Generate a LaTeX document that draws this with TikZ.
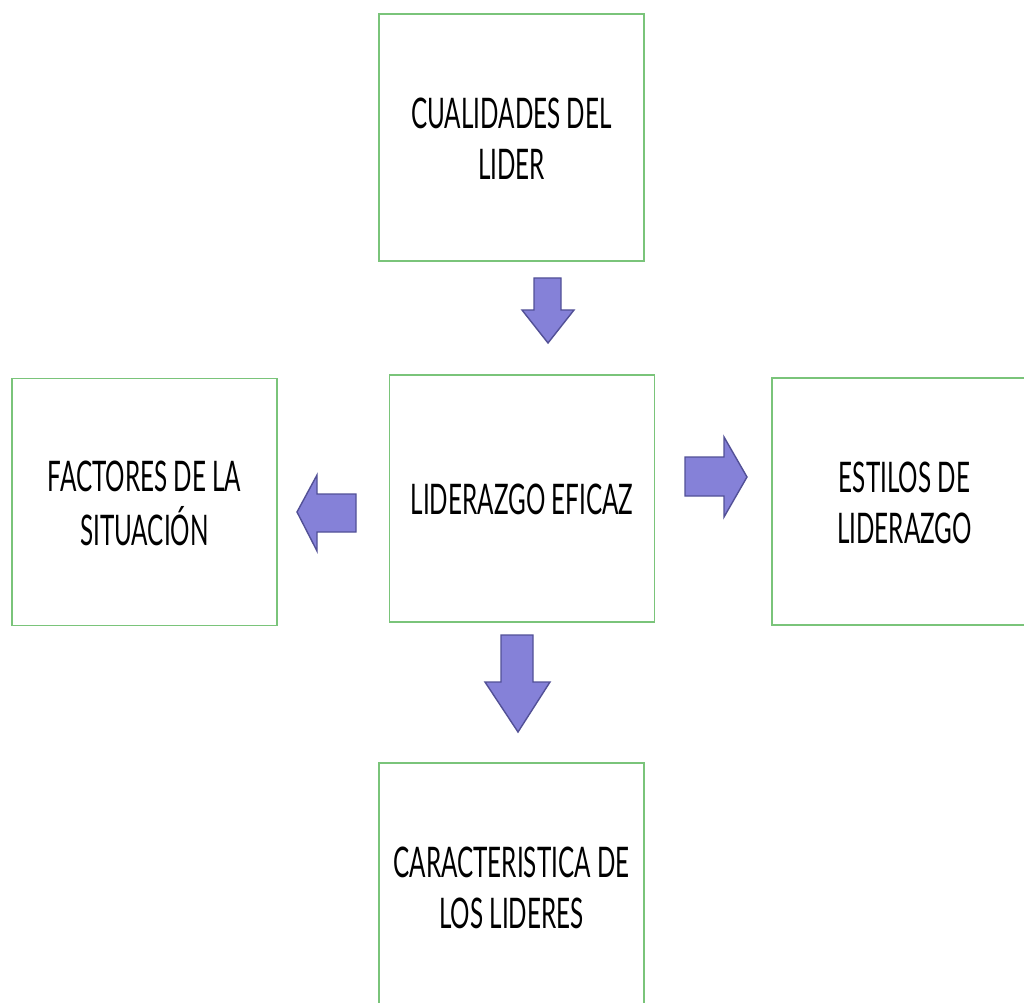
\documentclass[tikz,border=0pt]{standalone}
\usepackage{fontspec}
\setmainfont{Lato}
\usepackage{tikz}
\definecolor{boxgreen}{RGB}{122,196,122}
\definecolor{arrowfill}{RGB}{133,129,216}
\definecolor{arrowline}{RGB}{82,80,150}
\newcommand{\boxtext}[1]{\raisebox{-3.5pt}[\height][\depth]{\scalebox{0.575}[1]{\begin{tabular}{@{}c@{}}#1\end{tabular}}}}

\begin{document}
\begin{tikzpicture}[x=0.02cm, y=-0.02cm, font=\fontsize{24}{29}\selectfont, main/.style = {draw=boxgreen, line width=0.8pt, rectangle, minimum width=5.3cm, minimum height=4.94cm, inner sep=0pt, align=center}, flecha/.style = {draw=arrowline, fill=arrowfill, line width=0.8pt, line join=miter}]
                \useasboundingbox (0,0) rectangle (1024,1003);
                \node[main] (cual) at (511.5,137.5) {\boxtext{CUALIDADES DEL\\LIDER}};
                \node[main] (lid) at (522,498.5) {\boxtext{LIDERAZGO EFICAZ}};
                \node[main] (fact) at (144.5,502) {\boxtext{FACTORES DE LA\\SITUACIÓN}};
                \node[main] (est) at (904.5,501.5) {\boxtext{ESTILOS DE\\LIDERAZGO}};
                \node[main] (car) at (511.5,886.5) {\boxtext{CARACTERISTICA DE\\LOS LIDERES}};
                % cualidades -> liderazgo
                \draw[flecha] (534,278) -- (561,278) -- (561,310) -- (574,310) -- (548,343) -- (522,310) -- (534,310) -- cycle;
                % liderazgo -> factores
                \draw[flecha] (356,494) -- (356,532) -- (317,532) -- (317,551) -- (297,512) -- (317,475) -- (317,494) -- cycle;
                % liderazgo -> estilos
                \draw[flecha] (685,457) -- (724,457) -- (724,437) -- (747,477) -- (724,517) -- (724,496) -- (685,496) -- cycle;
                % liderazgo -> caracteristica
                \draw[flecha] (501,635) -- (533,635) -- (533,682) -- (550,682) -- (518,732) -- (485,682) -- (501,682) -- cycle;
            \end{tikzpicture}
\end{document}
